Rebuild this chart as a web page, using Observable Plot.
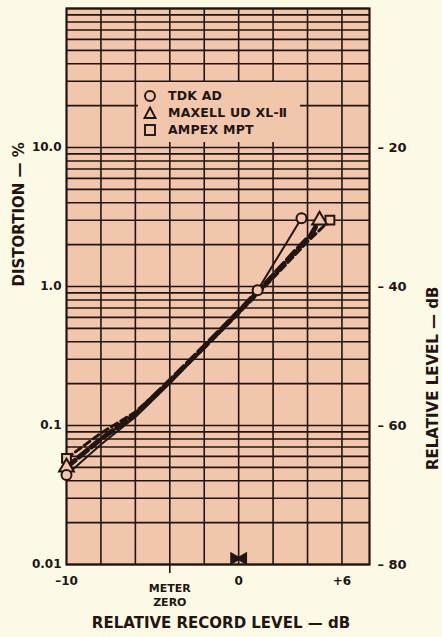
<!DOCTYPE html>
<html><head><meta charset="utf-8">
<script src="https://cdn.jsdelivr.net/npm/d3@7"></script>
<script src="https://cdn.jsdelivr.net/npm/@observablehq/plot@0.6"></script>
<style>
html,body{margin:0;padding:0;background:#fcf9e6;}
#wrap{position:relative;width:442px;height:637px;overflow:hidden;}
#legend{position:absolute;left:138px;top:82px;width:162px;height:60px;background:#f2c6ad;}
#legend .row{position:absolute;left:0;height:18px;line-height:18px;font-family:'DejaVu Sans',sans-serif;font-weight:bold;font-size:12.5px;letter-spacing:0.2px;color:#221511;white-space:nowrap;}
#legend .row svg{position:absolute;left:3px;top:0;}
#legend .row span{position:absolute;left:30px;top:0;}
</style></head>
<body><div id="wrap"><div id="chart"></div><div id="legend"></div></div>
<script>
// ---- data ----
const tdkLevel   = [-10, -8, -6, -4, -2, 0, 1.1, 3.65];
const tdkDist    = [0.044, 0.073, 0.115, 0.2, 0.36, 0.68, 0.94, 3.1];
const tdkMark    = [true, false, false, false, false, false, true, true];

const maxellLevel = [-10, -8, -6, -4, -2, 0, 2, 3.3, 4.2, 4.7];
const maxellDist  = [0.05, 0.08, 0.12, 0.21, 0.37, 0.66, 1.2, 1.8, 2.35, 3.0];
const maxellMark  = [true, false, false, false, false, false, false, false, false, true];

const ampexLevel = [-10, -8, -6, -4, -2, 0, 2, 4, 5.3];
const ampexDist  = [0.058, 0.088, 0.125, 0.21, 0.36, 0.64, 1.15, 2.1, 3.0];
const ampexMark  = [true, false, false, false, false, false, false, false, true];

const legendLabels  = ["TDK AD", "MAXELL UD XL-\u2161", "AMPEX MPT"];
const legendSymbols = ["circle", "triangle", "square"];

const leftTickValues  = [10, 1, 0.1, 0.01];
const leftTickLabels  = ["10.0", "1.0", "0.1", "0.01"];
const rightTickLabels = ["\u2013 20", "\u2013 40", "\u2013 60", "\u2013 80"];
const xTickValues = [-10, 0, 6];
const xTickLabels = ["\u201310", "0", "+6"];
const meterZeroLevel = [-4];
const meterZeroLabel = "METER\nZERO";
const meterMark = [{level: 0, dist: 0.01}];

const xTitle = "RELATIVE RECORD LEVEL \u2014 dB";
const yTitle = "DISTORTION \u2014 %";
const y2Title = "RELATIVE LEVEL \u2014 dB";

// ---- grid values (log paper) ----
const gridY = [];
for (let k = -2; k <= 1; k++) for (let m = 1; m <= 9; m++) gridY.push(m * Math.pow(10, k));
gridY.push(100);
const gridX = d3.range(-8, 7, 2);

const ink = "#221511";
const paper = "#f2c6ad";

const mk = (lv, ds, mks) => lv.map((level, i) => ({level, dist: ds[i], mark: mks[i]}));
const tdk = mk(tdkLevel, tdkDist, tdkMark);
const maxell = mk(maxellLevel, maxellDist, maxellMark);
const ampex = mk(ampexLevel, ampexDist, ampexMark);

const leftMap = new Map(leftTickValues.map((v, i) => [v, leftTickLabels[i]]));
const rightMap = new Map(leftTickValues.map((v, i) => [v, rightTickLabels[i]]));
const xMap = new Map(xTickValues.map((v, i) => [v, xTickLabels[i]]));

const chart = Plot.plot({
  width: 442, height: 637,
  marginLeft: 66, marginRight: 73, marginTop: 8, marginBottom: 73,
  style: {background: "transparent", fontFamily: "'DejaVu Sans', sans-serif", fontWeight: "bold", fontSize: "12px", color: ink, overflow: "visible"},
  x: {domain: [-10, 7.6]},
  y: {type: "log", domain: [0.01, 100]},
  marks: [
    Plot.frame({fill: paper, stroke: null}),
    Plot.ruleY(gridY, {stroke: ink, strokeWidth: 1.6}),
    Plot.ruleX(gridX, {stroke: ink, strokeWidth: 1.6}),
    Plot.frame({stroke: ink, strokeWidth: 2.2}),
    Plot.axisY(leftTickValues, {anchor: "left", tickSize: 0, tickPadding: 5, tickFormat: d => leftMap.get(d), label: null, fontSize: 12}),
    Plot.axisY(leftTickValues, {anchor: "right", tickSize: 0, tickPadding: 8, tickFormat: d => rightMap.get(d), label: null, fontSize: 13}),
    Plot.axisX(xTickValues, {anchor: "bottom", tickSize: 0, tickPadding: 12, tickFormat: d => xMap.get(d), label: null, fontSize: 12}),
    Plot.axisX(meterZeroLevel, {anchor: "bottom", tickSize: 9, tickPadding: 9, strokeWidth: 1.6, stroke: ink, tickFormat: () => meterZeroLabel, label: null, fontSize: 11, lineHeight: 1.25}),
    Plot.text([xTitle], {text: d => d, frameAnchor: "bottom", dy: 63, dx: 3, fontSize: 15}),
    Plot.text([yTitle], {text: d => d, frameAnchor: "left", dx: -47, rotate: -90, fontSize: 15}),
    Plot.text([y2Title], {text: d => d, frameAnchor: "right", dx: 64, rotate: -90, fontSize: 15}),
    Plot.dot(meterMark, {x: "level", y: "dist", symbol: "triangle", rotate: 90, r: 5, fill: ink, dx: -4.5, dy: -6}),
    Plot.dot(meterMark, {x: "level", y: "dist", symbol: "triangle", rotate: -90, r: 5, fill: ink, dx: 4.5, dy: -6}),
    Plot.line(ampex, {x: "level", y: "dist", stroke: ink, strokeWidth: 3, strokeDasharray: "7,4"}),
    Plot.line(maxell, {x: "level", y: "dist", stroke: ink, strokeWidth: 5, strokeDasharray: "11,5"}),
    Plot.line(tdk, {x: "level", y: "dist", stroke: ink, strokeWidth: 2}),
    Plot.dot(ampex.filter(d => d.mark), {x: "level", y: "dist", symbol: "square", r: 5, fill: paper, stroke: ink, strokeWidth: 2}),
    Plot.dot(maxell.filter(d => d.mark), {x: "level", y: "dist", symbol: "triangle", r: 5.5, fill: paper, stroke: ink, strokeWidth: 2}),
    Plot.dot(tdk.filter(d => d.mark), {x: "level", y: "dist", symbol: "circle", r: 5, fill: paper, stroke: ink, strokeWidth: 2})
  ]
});
document.getElementById("chart").appendChild(chart);

// legend
const legend = document.getElementById("legend");
const shapes = {
  circle: '<circle cx="9" cy="9" r="5" fill="none" stroke="' + ink + '" stroke-width="1.9"/>',
  triangle: '<path d="M9 3.5 L14.5 14 L3.5 14 Z" fill="none" stroke="' + ink + '" stroke-width="1.9"/>',
  square: '<rect x="4" y="4" width="10" height="10" fill="none" stroke="' + ink + '" stroke-width="1.9"/>'
};
legendLabels.forEach((lab, i) => {
  const row = document.createElement("div");
  row.className = "row";
  row.style.top = (5 + i * 17) + "px";
  row.innerHTML = '<svg width="18" height="18">' + shapes[legendSymbols[i]] + '</svg><span>' + lab + '</span>';
  legend.appendChild(row);
});
</script>
</body></html>
